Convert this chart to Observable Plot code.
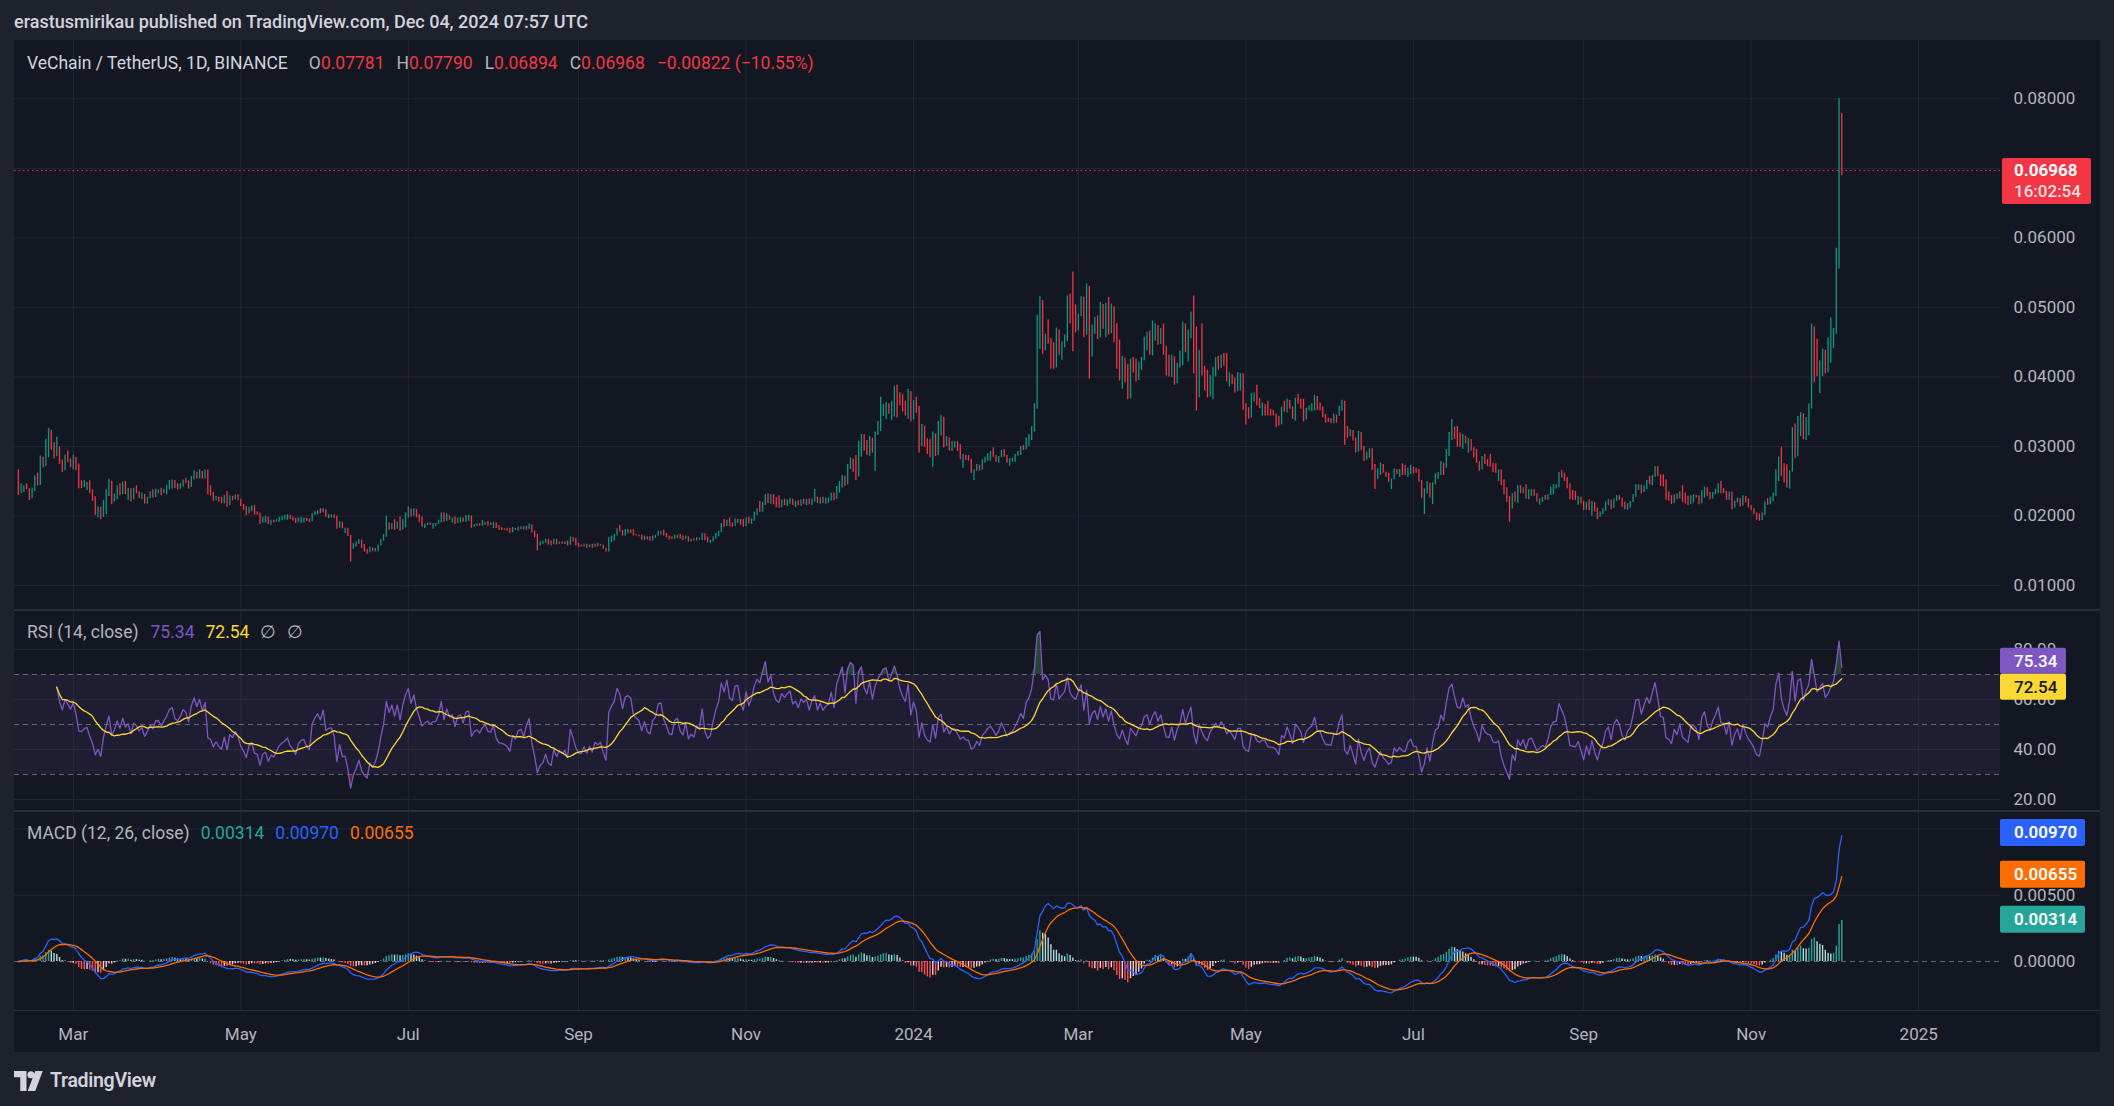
<!DOCTYPE html>
<html>
<head>
<meta charset="utf-8">
<script src="https://cdn.jsdelivr.net/npm/d3@7"></script>
<script src="https://cdn.jsdelivr.net/npm/@observablehq/plot@0.6"></script>
<style>
html,body{margin:0;padding:0;background:#1e222d;}
#root{position:relative;width:2114px;height:1106px;background:#1e222d;font-family:Roboto,"Noto Sans",sans-serif;overflow:hidden;}
.abs{position:absolute;}
#chart{left:14px;top:40px;width:2086px;height:1012px;background:#131722;}
.sep{position:absolute;left:14px;width:2086px;height:2px;background:#2a2e39;}
.leg{position:absolute;left:27px;font-size:17.5px;line-height:22px;color:#b2b5be;white-space:pre;}
</style>
</head>
<body>
<div id="root">
  <div class="abs" style="left:14px;top:10px;font-size:18px;line-height:24px;font-weight:500;color:#d1d4dc;">erastusmirikau published on TradingView.com, Dec 04, 2024 07:57 UTC</div>
  <div id="chart" class="abs"></div>
  <div id="pPrice" class="abs" style="left:14px;top:40px;"></div>
  <div id="pRsi" class="abs" style="left:14px;top:611px;"></div>
  <div id="pMacd" class="abs" style="left:14px;top:812px;"></div>
  <div id="pTime" class="abs" style="left:14px;top:1011px;"></div>
  <div class="sep" style="top:609px;"></div>
  <div class="sep" style="top:810px;"></div>
  <div class="sep" style="top:1010px;height:1px;"></div>
  <div class="leg" style="top:52px;"><span style="color:#d1d4dc">VeChain / TetherUS, 1D, BINANCE</span><span style="margin-left:21px">O</span><span style="color:#f23645">0.07781</span><span style="margin-left:12px">H</span><span style="color:#f23645">0.07790</span><span style="margin-left:12px">L</span><span style="color:#f23645">0.06894</span><span style="margin-left:12px">C</span><span style="color:#f23645">0.06968</span><span style="margin-left:12px;color:#f23645">−0.00822 (−10.55%)</span></div>
  <div class="leg" style="top:621px;"><span>RSI (14, close)</span><span style="margin-left:12px;color:#7e57c2">75.34</span><span style="margin-left:11px;color:#fdd835">72.54</span><span style="margin-left:11px">∅</span><span style="margin-left:11px">∅</span></div>
  <div class="leg" style="top:822px;"><span>MACD (12, 26, close)</span><span style="margin-left:11px;color:#26a69a">0.00314</span><span style="margin-left:11px;color:#2962ff">0.00970</span><span style="margin-left:11px;color:#ff6d00">0.00655</span></div>
  <div class="abs" style="left:14px;top:1069px;display:flex;align-items:center;gap:6px;">
    <svg width="30" height="20" viewBox="0 0 24 16"><path d="M0 0H10V16H5V5H0Z" fill="#d1d4dc"/><circle cx="13.5" cy="3" r="2.8" fill="#d1d4dc"/><path d="M17 0H23L17 16H11Z" fill="#d1d4dc"/></svg>
    <span style="font-size:19.5px;font-weight:600;color:#d1d4dc;letter-spacing:-0.3px;">TradingView</span>
  </div>
</div>
<script>
// ---------------- DATA (prices in units of 0.00001 USDT), daily from 2023-02-09 ----------------
const firstDay = "2023-02-09";
const firstOpen = 2600;
const high = [
/*Feb23*/2662,2462,2433,2462,2376,2400,2576,2614,2862,2843,3105,3262,3233,3052,3133,2990,2805,2876,2933,2819,
/*Mar23*/2876,2838,2748,2505,2505,2481,2505,2376,2276,2129,2124,2224,2376,2533,2433,2314,2433,2462,2490,2495,2400,2390,2400,2433,2348,2329,2305,2267,2348,2376,2386,
/*Apr23*/2376,2400,2386,2438,2510,2519,2471,2462,2462,2519,2543,2505,2567,2652,2590,2662,2638,2662,2662,2433,2338,2281,2271,2267,2295,2348,2290,2281,2300,2305,
/*May23*/2233,2167,2138,2124,2148,2148,2062,2043,1986,1995,1981,1938,1938,1948,1981,1995,2005,2019,1995,1981,1967,1971,1981,1971,1967,1957,2033,2062,2076,2105,2105,
/*Jun23*/2062,2019,2014,2014,1995,1919,1910,1824,1790,1719,1605,1624,1662,1652,1590,1519,1552,1533,1533,1581,1662,1733,1995,1900,1891,1948,1915,1986,1948,2043,
/*Jul23*/2128,2076,2104,2076,2019,1986,1886,1900,1900,1891,1891,1938,2043,2043,2033,1995,1972,1986,1972,1976,1972,2005,2005,1976,1877,1886,1891,1934,1910,1919,1900,
/*Aug23*/1910,1900,1863,1829,1815,1825,1820,1834,1820,1839,1844,1844,1853,1886,1867,1782,1735,1630,1635,1664,1664,1640,1664,1664,1626,1630,1630,1640,1697,1692,1678,
/*Sep23*/1607,1583,1592,1592,1583,1592,1592,1607,1592,1578,1536,1687,1711,1735,1815,1863,1792,1806,1806,1792,1806,1735,1725,1721,1711,1701,1701,1711,1721,1782,
/*Oct23*/1782,1796,1749,1711,1701,1721,1725,1735,1711,1711,1701,1664,1673,1687,1673,1749,1697,1697,1649,1697,1749,1782,1891,1948,1938,1972,1900,1957,1948,1948,1948,
/*Nov23*/1972,1986,1957,2052,2104,2209,2195,2307,2320,2307,2307,2264,2290,2230,2240,2230,2250,2240,2210,2220,2230,2240,2235,2245,2245,2380,2270,2260,2270,2260,
/*Dec23*/2260,2327,2332,2423,2495,2582,2567,2740,2836,2812,2870,3072,3173,3173,3087,3144,3029,3207,3360,3707,3606,3630,3615,3649,3865,3880,3774,3750,3649,3822,3606,
/*Jan24*/3663,3707,3577,3317,3288,3110,3096,3207,3135,3360,3447,3341,3144,3096,3072,3072,3072,3024,2884,2870,2870,2812,2663,2740,2726,2808,2846,2894,2928,2981,2870,
/*Feb24*/2856,2942,2957,2870,2822,2832,2884,2928,3000,3014,3120,3173,3288,3615,4889,5154,4803,4615,4817,4553,4490,4702,4673,4505,4601,5163,5192,5510,5034,
/*Mar24*/4904,5154,5144,5337,4986,4745,4856,4875,5072,4976,5058,5144,5048,4947,4769,4529,4298,4255,4183,4255,4279,4255,4211,4279,4572,4644,4659,4803,4760,4716,4697,
/*Apr24*/4760,4442,4312,4312,4211,4197,4370,4788,4716,4673,4933,5163,4716,4385,4760,4154,4096,4024,4139,4274,4298,4312,4336,4336,4058,4010,3986,4062,4048,4038,
/*May24*/3615,3558,3760,3769,3880,3687,3625,3591,3649,3534,3519,3462,3433,3567,3649,3683,3630,3567,3692,3750,3678,3678,3548,3582,3615,3736,3663,3630,3567,3462,3404,
/*Jun24*/3399,3462,3447,3577,3663,3649,3288,3240,3197,3120,3216,3135,3000,2918,2966,2966,2740,2678,2760,2712,2630,2615,2534,2678,2668,2668,2750,2726,2688,2726,
/*Jul24*/2678,2687,2668,2510,2389,2495,2437,2476,2606,2625,2784,2711,2957,3202,3389,3279,3288,3192,3173,3144,3115,3101,2981,2957,2784,2856,2884,2812,2884,2760,2750,
/*Aug24*/2664,2664,2521,2406,2282,2320,2344,2435,2435,2406,2449,2378,2378,2378,2320,2244,2268,2296,2306,2416,2449,2449,2626,2655,2617,2555,2464,2368,2354,2282,2244,
/*Sep24*/2210,2196,2234,2210,2163,2115,2057,2105,2201,2234,2210,2244,2292,2292,2258,2196,2177,2205,2306,2449,2449,2435,2435,2511,2569,2583,2712,2712,2593,2593,
/*Oct24*/2521,2344,2292,2306,2320,2344,2435,2330,2282,2292,2306,2292,2292,2363,2416,2378,2339,2339,2387,2464,2497,2392,2354,2344,2344,2210,2258,2234,2292,2272,2244,
/*Nov24*/2148,2105,2043,2029,2043,2201,2249,2268,2330,2664,2846,2989,2750,2736,2650,3272,3324,3429,3487,3453,3415,3611,4759,4562,4543,4232,4400,4313,4562,4849,
/*Dec24*/4696,5849,8000,7790
];
const low = [
/*Feb23*/2295,2319,2338,2376,2224,2248,2352,2433,2438,2695,2710,2838,2948,2819,2924,2743,2624,2676,2767,2695,
/*Mar23*/2662,2652,2390,2395,2414,2367,2319,2210,2010,1971,1948,2010,2019,2281,2162,2210,2233,2290,2352,2305,2224,2200,2233,2319,2248,2233,2171,2171,2248,2257,2267,
/*Apr23*/2319,2290,2329,2305,2376,2386,2395,2376,2386,2414,2462,2386,2433,2519,2533,2533,2533,2533,2305,2290,2210,2219,2200,2176,2176,2124,2210,2219,2233,2219,
/*May23*/2138,2081,2005,2067,2062,2014,2010,1876,1919,1900,1876,1867,1900,1910,1910,1933,1943,1938,1948,1929,1890,1910,1890,1900,1919,1905,1919,2005,2019,2033,2043,
/*Jun23*/1981,1962,1971,1962,1810,1824,1814,1748,1705,1338,1552,1552,1590,1533,1481,1448,1481,1486,1481,1481,1567,1638,1695,1795,1806,1796,1815,1782,1806,1829,
/*Jul23*/1972,1986,2033,1976,1910,1839,1820,1863,1863,1810,1844,1877,1900,1910,1938,1938,1900,1877,1910,1900,1910,1910,1924,1825,1853,1853,1853,1853,1863,1853,1863,
/*Aug23*/1820,1820,1796,1792,1792,1782,1744,1758,1792,1782,1806,1796,1796,1806,1754,1687,1498,1569,1592,1607,1583,1569,1592,1583,1592,1592,1588,1569,1592,1626,1569,
/*Sep23*/1545,1555,1555,1536,1545,1536,1555,1555,1569,1521,1483,1483,1616,1640,1711,1768,1711,1711,1744,1749,1711,1711,1701,1654,1649,1654,1640,1640,1678,1711,
/*Oct23*/1725,1711,1687,1654,1664,1664,1678,1664,1649,1664,1626,1626,1640,1640,1654,1649,1649,1616,1607,1626,1664,1701,1758,1839,1853,1844,1839,1853,1891,1867,1839,
/*Nov23*/1877,1886,1877,1924,2005,2052,2052,2150,2180,2170,2160,2120,2110,2120,2150,2140,2170,2150,2120,2150,2140,2170,2150,2160,2150,2200,2180,2170,2180,2170,
/*Dec23*/2180,2210,2220,2240,2327,2399,2423,2500,2668,2630,2510,2702,2846,2933,2870,2860,2904,2644,3159,3216,3433,3389,3462,3375,3423,3409,3582,3495,3437,3389,3351,
/*Jan24*/3481,3476,2904,3135,2990,2884,2832,2702,2856,2870,3149,2976,3000,2933,2928,2976,2928,2808,2687,2798,2788,2606,2510,2644,2644,2692,2760,2788,2788,2846,2774,
/*Feb24*/2760,2846,2846,2760,2716,2774,2774,2860,2870,2942,2957,3000,3087,3207,3534,4399,4327,4375,4471,4110,4110,4159,4312,4240,4418,4505,4760,4361,4635,
/*Mar24*/4731,4865,4562,4808,3971,4288,4615,4538,4721,4687,4562,4601,4793,4490,4110,3942,3822,3913,3673,3687,4058,3928,3986,4096,4231,4375,4312,4303,4514,4457,4466,
/*Apr24*/4312,4014,4000,3990,3880,4014,4130,4159,4346,4216,4548,4043,3510,3769,4014,3798,3697,3711,3673,4000,4096,4120,4154,3928,3856,3894,3769,3928,3798,3519,
/*May24*/3308,3394,3481,3639,3582,3543,3437,3437,3437,3437,3437,3269,3293,3317,3495,3481,3534,3389,3365,3606,3534,3351,3413,3510,3495,3510,3519,3510,3413,3337,3356,
/*Jun24*/3327,3327,3337,3433,3510,3014,3120,3144,3077,2904,2918,2942,2784,2812,2832,2654,2380,2524,2582,2615,2558,2486,2380,2567,2596,2558,2582,2582,2558,2596,
/*Jul24*/2606,2615,2485,2255,2019,2317,2255,2163,2461,2524,2582,2582,2687,2856,3086,3101,2990,2990,2957,3038,2904,2933,2832,2760,2644,2726,2740,2711,2702,2620,2615,
/*Aug24*/2497,2440,2306,2196,1909,2153,2196,2182,2320,2320,2244,2234,2282,2282,2196,2153,2196,2225,2225,2296,2306,2387,2406,2545,2497,2392,2234,2225,2225,2153,2177,
/*Sep24*/2076,2081,2076,1995,2057,1947,1995,2019,2067,2148,2091,2148,2210,2225,2124,2091,2081,2115,2196,2268,2368,2320,2339,2378,2449,2435,2555,2569,2425,2416,
/*Oct24*/2225,2210,2163,2210,2234,2268,2196,2172,2148,2225,2186,2258,2163,2225,2258,2282,2234,2249,2306,2320,2320,2320,2225,2225,2091,2139,2186,2129,2186,2186,2115,
/*Nov24*/2076,2019,1938,1924,1957,2005,2153,2163,2201,2282,2497,2569,2473,2401,2387,2641,2822,2865,3142,3095,3085,3152,3539,3917,4003,3760,4003,4041,4146,4376,
/*Dec24*/4410,4615,5552,6894
];
const close = [
/*Feb23*/2330,2400,2420,2390,2260,2380,2560,2450,2840,2720,3060,3200,2980,2850,2960,2770,2650,2850,2790,2720,
/*Mar23*/2840,2680,2420,2410,2450,2470,2340,2230,2040,2100,1980,2200,2350,2500,2200,2290,2420,2310,2460,2330,2380,2230,2380,2340,2270,2310,2190,2250,2330,2280,2370,
/*Apr23*/2375,2320,2370,2420,2490,2510,2420,2400,2440,2500,2480,2410,2550,2630,2570,2640,2560,2640,2330,2310,2230,2270,2220,2190,2280,2150,2270,2240,2290,2240,
/*May23*/2150,2100,2030,2110,2130,2030,2020,1900,1970,1980,1890,1925,1910,1940,1970,1985,1995,2010,1960,1940,1905,1950,1965,1968,1930,1915,2020,2050,2070,2045,2090,
/*Jun23*/2000,2010,2012,1975,1830,1900,1820,1822,1720,1520,1580,1610,1650,1550,1500,1470,1540,1500,1525,1570,1650,1720,1890,1820,1880,1810,1900,1800,1930,2030,
/*Jul23*/2100,2000,2090,1990,1925,1850,1875,1890,1870,1885,1888,1930,2030,1920,2000,1950,1965,1890,1960,1970,1920,1995,2000,1840,1870,1880,1860,1890,1905,1870,1865,
/*Aug23*/1900,1830,1805,1800,1795,1785,1760,1815,1800,1830,1835,1805,1845,1870,1770,1700,1590,1615,1625,1655,1600,1585,1640,1600,1620,1605,1615,1580,1680,1640,1590,
/*Sep23*/1560,1558,1580,1550,1570,1545,1575,1565,1572,1530,1495,1670,1700,1725,1800,1780,1725,1790,1798,1790,1725,1715,1705,1665,1700,1660,1650,1700,1715,1770,
/*Oct23*/1775,1720,1695,1665,1662,1710,1718,1675,1660,1700,1640,1655,1645,1680,1670,1740,1660,1630,1640,1690,1740,1775,1880,1850,1925,1860,1850,1940,1945,1880,1850,
/*Nov23*/1960,1900,1950,2040,2095,2080,2180,2290,2200,2270,2180,2140,2130,2200,2180,2210,2230,2170,2190,2160,2215,2200,2220,2175,2230,2260,2200,2240,2210,2230,
/*Dec23*/2245,2310,2250,2410,2480,2570,2450,2720,2820,2805,2560,3050,3150,2960,2900,3120,2940,3180,3340,3450,3580,3610,3480,3630,3840,3750,3600,3520,3460,3790,3380,
/*Jan24*/3640,3500,3000,3290,3010,2900,2850,3180,2880,3330,3420,3000,3120,2950,3050,3060,2950,2830,2870,2810,2800,2630,2650,2730,2660,2790,2830,2880,2910,2860,2790,
/*Feb24*/2840,2930,2860,2780,2810,2825,2870,2920,2990,2950,3110,3160,3270,3580,4820,5100,4400,4580,4500,4150,4130,4650,4350,4480,4580,5100,4800,4700,4660,
/*Mar24*/4880,5120,4600,5300,4350,4720,4830,4560,5040,4710,5020,4620,5010,4520,4150,3980,4270,3940,3700,4230,4080,3950,4190,4260,4550,4620,4340,4600,4740,4480,4670,
/*Apr24*/4340,4040,4020,4290,3900,4180,4350,4760,4370,4650,4900,4100,3700,4350,4050,3820,3720,3990,4110,4250,4120,4290,4170,3950,4030,3920,3790,4040,4045,3560,
/*May24*/3450,3410,3740,3750,3600,3560,3600,3585,3460,3450,3445,3400,3310,3550,3510,3660,3550,3400,3670,3620,3550,3380,3530,3570,3600,3720,3540,3525,3430,3350,3345,
/*Jun24*/3335,3450,3445,3560,3640,3200,3140,3230,3090,2920,3200,2960,2800,2900,2950,2670,2560,2660,2740,2630,2570,2500,2520,2660,2610,2650,2600,2590,2670,2700,
/*Jul24*/2620,2618,2500,2280,2340,2470,2280,2450,2590,2610,2760,2700,2940,3180,3250,3120,3010,3000,3150,3050,3090,2950,2850,2780,2660,2840,2760,2730,2720,2640,2630,
/*Aug24*/2645,2460,2330,2220,2100,2300,2210,2410,2330,2390,2260,2360,2370,2290,2210,2235,2255,2235,2295,2400,2440,2445,2610,2560,2510,2400,2250,2240,2235,2270,2190,
/*Sep24*/2090,2180,2090,2190,2070,1980,2050,2095,2190,2225,2110,2235,2280,2240,2140,2100,2165,2195,2295,2435,2445,2340,2425,2500,2460,2570,2690,2580,2440,2430,
/*Oct24*/2240,2225,2180,2295,2245,2335,2210,2185,2160,2280,2295,2265,2175,2350,2405,2295,2245,2330,2380,2455,2330,2325,2235,2335,2110,2200,2250,2140,2280,2195,2125,
/*Nov24*/2085,2030,1950,1935,2035,2190,2160,2255,2320,2640,2830,2600,2490,2420,2630,3250,2850,3410,3470,3110,3400,3590,4720,4400,4020,4200,4380,4060,4200,4450,
/*Dec24*/4680,5620,7790,6968
];
// axis ticks and labels
const priceGrid = [0.01,0.02,0.03,0.04,0.05,0.06,0.07,0.08];
const priceLabels = [0.01,0.02,0.03,0.04,0.05,0.06,0.08];
const rsiTicks = [20,40,60,80];
const rsiLevels = [30,50,70];
const macdGrid = [0.005,0.01];
const macdLabels = [0,0.005];
const monthTicks = ["2023-03-01","2023-05-01","2023-07-01","2023-09-01","2023-11-01","2024-01-01","2024-03-01","2024-05-01","2024-07-01","2024-09-01","2024-11-01","2025-01-01"];
const monthLabels = ["Mar","May","Jul","Sep","Nov","2024","Mar","May","Jul","Sep","Nov","2025"];
// last values shown on the right scale
const lastPrice = 0.06968, countdown = "16:02:54";
const rsiLast = 75.34, rsiMaLast = 72.54;
const macdLast = 0.00970, signalLast = 0.00655, histLast = 0.00314;

// ---------------- BUILD ----------------
if (high.length !== close.length || low.length !== close.length) throw new Error("length mismatch " + high.length + " " + low.length + " " + close.length);
const DAY = 864e5, T0 = Date.parse(firstDay + "T00:00:00Z");
const candles = close.map((c, i) => {
  const o = (i ? close[i-1] : firstOpen) / 1e5, cl = c / 1e5;
  return {date: new Date(T0 + i*DAY), open: o, close: cl,
          high: Math.max(high[i]/1e5, o, cl), low: Math.min(low[i]/1e5, o, cl)};
});
const cl = candles.map(d => d.close);
// RSI 14 (Wilder) + SMA 14
const rsi = new Array(cl.length).fill(null);
{ let ag = 0, al = 0; const n = 14;
  for (let i = 1; i < cl.length; i++) {
    const ch = cl[i] - cl[i-1], g = Math.max(ch, 0), l = Math.max(-ch, 0);
    if (i <= n) { ag += g / n; al += l / n; } else { ag = (ag*(n-1) + g)/n; al = (al*(n-1) + l)/n; }
    if (i >= n) rsi[i] = al === 0 ? 100 : 100 - 100/(1 + ag/al);
  } }
const rsiMa = rsi.map((v, i) => { if (v == null) return null; const w = rsi.slice(Math.max(0, i-13), i+1).filter(x => x != null); return d3.mean(w); });
const rsiData = candles.map((d, i) => ({date: d.date, rsi: rsi[i], ma: rsiMa[i]})).filter(d => d.rsi != null);
// MACD 12/26/9
function ema(arr, n) { const a = 2/(n+1); let e = arr[0]; return arr.map(v => (e = a*v + (1-a)*e)); }
const e12 = ema(cl, 12), e26 = ema(cl, 26);
const macd = cl.map((_, i) => e12[i] - e26[i]);
const sig = ema(macd, 9);
const macdData = candles.map((d, i) => {
  const h = macd[i] - sig[i], hp = i ? macd[i-1] - sig[i-1] : h;
  const col = h >= 0 ? (h >= hp ? "#26a69a" : "#b2dfdb") : (h >= hp ? "#ffcdd2" : "#ff5252");
  return {date: d.date, macd: macd[i], signal: sig[i], hist: h, col};
});

const W = 2086, MR = 100, PW = W - MR;
const xDomain = [new Date(Date.UTC(2023,1,7,14,24)), new Date(Date.UTC(2025,0,30,19,0))];
const tickDates = monthTicks.map(s => new Date(s + "T00:00:00Z"));
const GRID = "#232733", AX = "#b2b5be";
const FONT = "Roboto, 'Noto Sans', sans-serif";
const baseStyle = {background: "transparent", color: AX, fontSize: "17px", fontFamily: FONT, overflow: "visible"};
const xOpt = {type: "utc", domain: xDomain, range: [0, PW], axis: null};
const PAD = 13;

function box(svg, yc, h, w, x, bg, lines) {
  const g = d3.select(svg).append("g");
  g.append("rect").attr("x", x).attr("y", yc - h/2).attr("width", w).attr("height", h).attr("rx", 2).attr("fill", bg);
  lines.forEach(l => g.append("text").attr("x", l.x).attr("y", l.y).attr("dy", "0.35em").attr("fill", l.fill)
    .attr("text-anchor", "start").attr("font-size", 17).attr("font-weight", l.w || 500).attr("font-family", FONT).text(l.t));
}

// Price pane
const pricePlot = Plot.plot({
  width: W, height: 570, marginLeft: 0, marginRight: MR, marginTop: 0, marginBottom: 0,
  style: baseStyle, x: xOpt,
  y: {domain: [0.01, 0.08], range: [545, 58.3], axis: null},
  marks: [
    Plot.ruleY(priceGrid, {stroke: GRID}),
    Plot.ruleX(tickDates, {stroke: GRID}),
    Plot.axisY(priceLabels, {anchor: "right", tickSize: 0, tickPadding: PAD, tickFormat: d3.format(".5f"), fill: AX}),
    Plot.ruleY([lastPrice], {stroke: "#f23645", strokeDasharray: "1.5,3", strokeWidth: 1}),
    Plot.ruleX(candles.filter(d => d.close >= d.open), {x: "date", y1: "low", y2: "high", stroke: "#089981", strokeWidth: 1.3}),
    Plot.ruleX(candles.filter(d => d.close < d.open), {x: "date", y1: "low", y2: "high", stroke: "#f23645", strokeWidth: 1.3})
  ]
});
document.getElementById("pPrice").appendChild(pricePlot);
{ const y = pricePlot.scale("y").apply(lastPrice);
  box(pricePlot, y + 11, 46, 89, 1988, "#f23645", [
    {x: 2000, y: y, t: d3.format(".5f")(lastPrice), fill: "#ffffff", w: 700},
    {x: 2000, y: y + 21, t: countdown, fill: "rgba(255,255,255,0.85)", w: 500}]); }

// RSI pane
const rsiPlot = Plot.plot({
  width: W, height: 199, marginLeft: 0, marginRight: MR, marginTop: 0, marginBottom: 0,
  style: baseStyle, x: xOpt,
  y: {domain: [20, 80], range: [188, 38], axis: null},
  marks: [
    Plot.ruleY(rsiTicks, {stroke: GRID}),
    Plot.ruleX(tickDates, {stroke: GRID}),
    Plot.rect([0], {x1: xDomain[0], x2: xDomain[1], y1: 30, y2: 70, fill: "#7e57c2", fillOpacity: 0.1}),
    Plot.ruleY(rsiLevels, {stroke: "#787b86", strokeDasharray: "5,4", strokeOpacity: 0.8}),
    Plot.axisY(rsiTicks, {anchor: "right", tickSize: 0, tickPadding: PAD, tickFormat: d3.format(".2f"), fill: AX}),
    Plot.areaY(rsiData, {x: "date", y1: 70, y2: d => Math.max(70, d.rsi), fill: "#4caf50", fillOpacity: 0.3}),
    Plot.areaY(rsiData, {x: "date", y1: 30, y2: d => Math.min(30, d.rsi), fill: "#f23645", fillOpacity: 0.3}),
    Plot.line(rsiData, {x: "date", y: "rsi", stroke: "#7e57c2", strokeWidth: 1.3}),
    Plot.line(rsiData, {x: "date", y: "ma", stroke: "#fdd835", strokeWidth: 1.3})
  ]
});
document.getElementById("pRsi").appendChild(rsiPlot);
{ const sy = rsiPlot.scale("y"); const y1 = sy.apply(rsiLast);
  box(rsiPlot, y1, 26, 66, 1986, "#7e57c2", [{x: 2000, y: y1, t: rsiLast.toFixed(2), fill: "#ffffff"}]);
  box(rsiPlot, y1 + 26, 26, 66, 1986, "#fdd835", [{x: 2000, y: y1 + 26, t: rsiMaLast.toFixed(2), fill: "#131722"}]); }

// MACD pane
const macdPlot = Plot.plot({
  width: W, height: 199, marginLeft: 0, marginRight: MR, marginTop: 0, marginBottom: 0,
  style: baseStyle, x: xOpt,
  y: {domain: [0, 0.005], range: [149, 82.7], axis: null},
  marks: [
    Plot.ruleY(macdGrid, {stroke: GRID}),
    Plot.ruleX(tickDates, {stroke: GRID}),
    Plot.ruleY([0], {stroke: "#787b86", strokeDasharray: "5,4", strokeOpacity: 0.8}),
    Plot.axisY(macdLabels, {anchor: "right", tickSize: 0, tickPadding: PAD, tickFormat: d3.format(".5f"), fill: AX}),
    Plot.ruleX(macdData, {x: "date", y1: 0, y2: "hist", stroke: "col", strokeWidth: 1.4}),
    Plot.line(macdData, {x: "date", y: "macd", stroke: "#2962ff", strokeWidth: 1.3}),
    Plot.line(macdData, {x: "date", y: "signal", stroke: "#ff6d00", strokeWidth: 1.3})
  ]
});
document.getElementById("pMacd").appendChild(macdPlot);
{ const sy = macdPlot.scale("y"); const f = d3.format(".5f");
  [[macdLast, "#2962ff"], [signalLast, "#ff6d00"], [histLast, "#26a69a"]].forEach(([v, c]) => {
    const y = sy.apply(v);
    box(macdPlot, y, 27, 85, 1986, c, [{x: 2000, y: y, t: f(v), fill: "#ffffff", w: 600}]);
  }); }

// Time axis
const timePlot = Plot.plot({
  width: W, height: 41, marginLeft: 0, marginRight: MR, marginTop: 0, marginBottom: 0,
  style: baseStyle, x: xOpt,
  marks: [
    Plot.text(tickDates, {x: d => d, text: (d, i) => monthLabels[i], frameAnchor: "top", dy: 16, fill: AX, fontSize: 17})
  ]
});
document.getElementById("pTime").appendChild(timePlot);
</script>
</body>
</html>
